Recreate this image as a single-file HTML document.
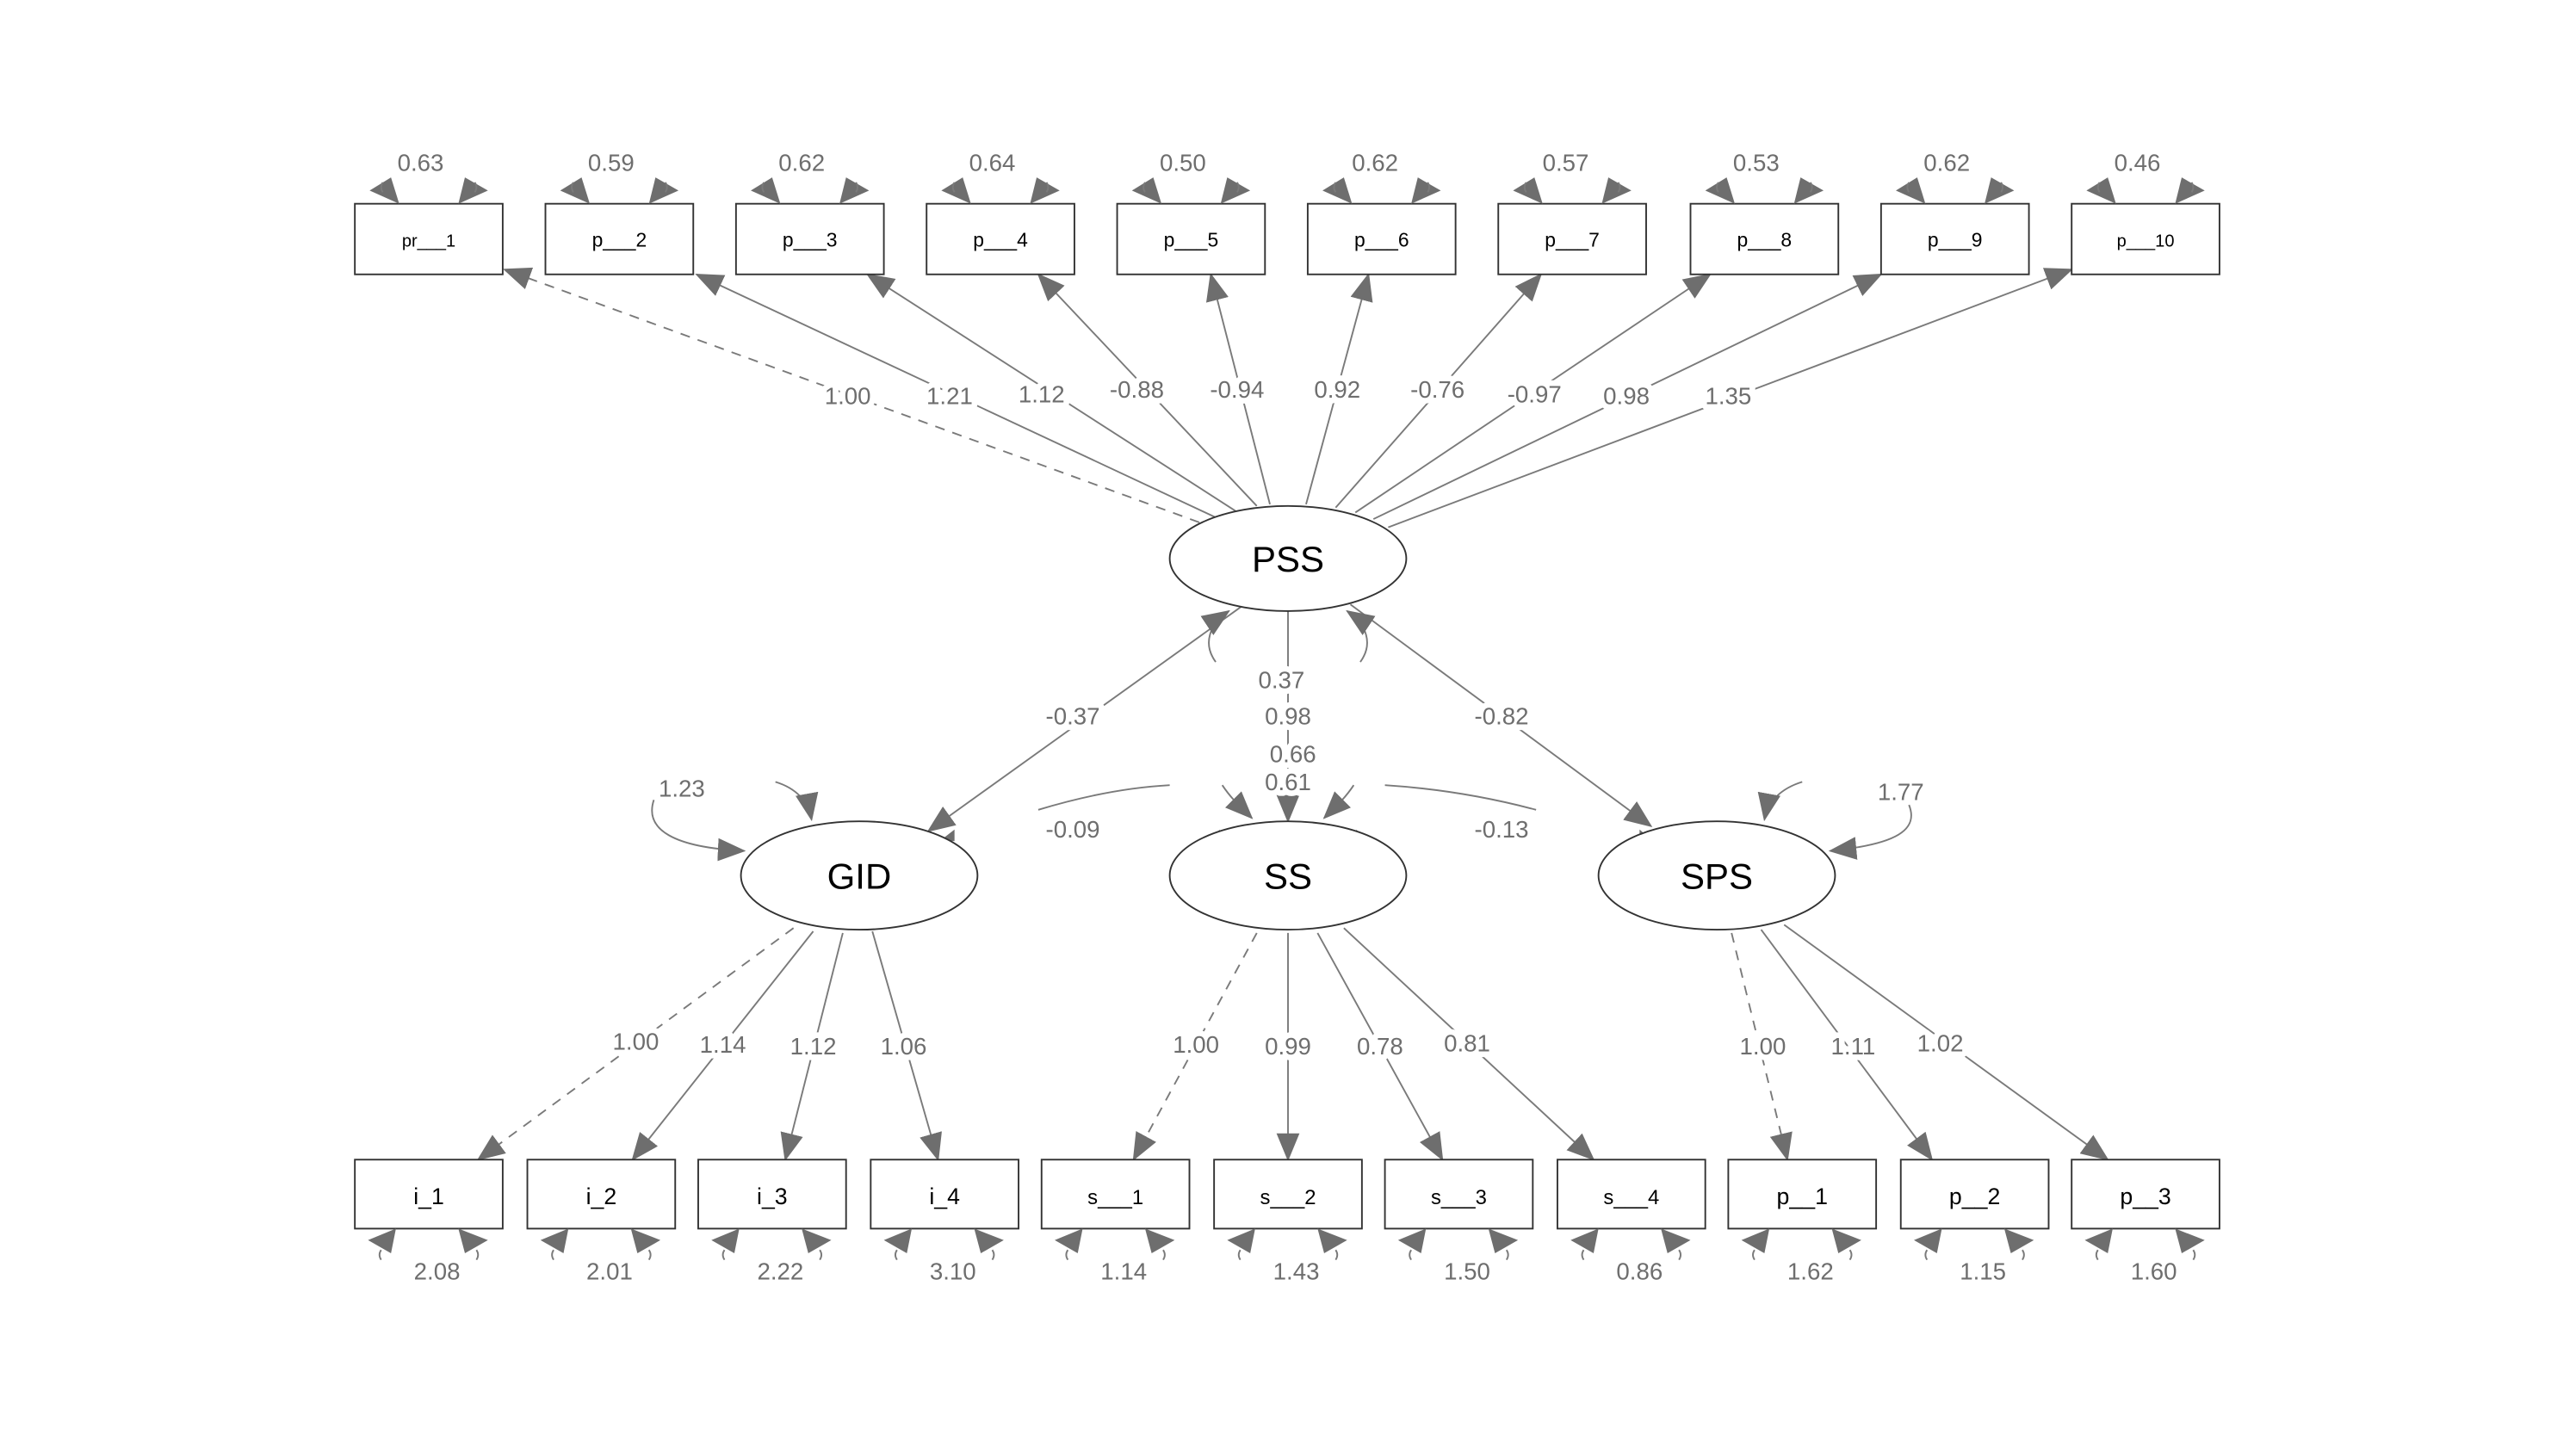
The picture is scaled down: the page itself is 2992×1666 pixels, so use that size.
<!DOCTYPE html>
<html><head><meta charset="utf-8"><style>
html,body{margin:0;padding:0;background:#fff;}
svg{display:block;}
.l{font-family:"Liberation Sans",sans-serif;font-size:14.5px;fill:#6e6e6e;text-anchor:middle;stroke:#fff;stroke-width:7px;paint-order:stroke;stroke-linejoin:round;}
.n{font-family:"Liberation Sans",sans-serif;fill:#000;text-anchor:middle;}
.e{stroke:#7a7a7a;stroke-width:1;fill:none;}
.d{stroke-dasharray:6,5;}
.b{fill:#fff;stroke:#333;stroke-width:1;}
.t{fill:#6e6e6e;}
</style></head><body>
<svg width="2992" height="1666" viewBox="0 0 1568 873" xmlns="http://www.w3.org/2000/svg">
<defs>
<marker id="a" markerUnits="userSpaceOnUse" markerWidth="18" markerHeight="14" refX="16" refY="7" orient="auto"><path d="M0,0 L17,7 L0,14 z" fill="#6e6e6e"/></marker>
<g id="tv">
 <polygon class="t" points="27,0 9,-8 22,-16"/>
 <polygon class="t" points="63,0 67,-16 81,-8"/>
 <path class="e" d="M17,-13 q-2,3 0,6"/>
 <path class="e" d="M73,-13 q2,3 0,6"/>
</g>
<g id="bv">
 <polygon class="t" points="25,0 8,7 22,15"/>
 <polygon class="t" points="63,0 67,15 81,7"/>
 <path class="e" d="M16,13 q-2,3 0,6"/>
 <path class="e" d="M74,13 q2,3 0,6"/>
</g>
</defs>

<g class="e" marker-end="url(#a)">
<path class="d" d="M730,318 L307,164"/>
<path d="M740,315 L424,167"/>
<path d="M752,311 L528,167"/>
<path d="M765,308 L632,167"/>
<path d="M773,307 L737,167"/>
<path d="M795,307 L833,167"/>
<path d="M813,309 L938,167"/>
<path d="M825,312 L1041,167"/>
<path d="M836,316 L1145,167"/>
<path d="M845,321 L1261,164"/>
<path d="M756,369 L565,506"/>
<path d="M822,368 L1005,503"/>
<path d="M784,372 L784,500"/>
<path d="M740,403 C732,392 736,380 748,372"/>
<path d="M828,403 C836,392 832,380 820,372"/>
<path d="M744,478 C750,487 756,492 762,498"/>
<path d="M824,478 C818,487 812,492 806,498"/>
<path d="M398,487 C392,505 410,516 453,518"/>
<path d="M472,476 C485,480 492,488 494,499"/>
<path d="M1097,476 C1084,480 1076,488 1074,499"/>
<path d="M1162,490 C1168,505 1155,514 1114,518"/>
<path class="d" d="M483,565 L291,706"/>
<path d="M495,567 L385,706"/>
<path d="M513,568 L478,706"/>
<path d="M531,567 L571,706"/>
<path class="d" d="M765,568 L690,706"/>
<path d="M784,568 L784,706"/>
<path d="M802,568 L878,706"/>
<path d="M818,565 L970,706"/>
<path class="d" d="M1054,568 L1088,706"/>
<path d="M1072,566 L1176,706"/>
<path d="M1086,563 L1283,706"/>
</g>
<path class="e" d="M632,493 Q675,480 712,478"/>
<path class="e" d="M843,478 Q890,481 935,493"/>
<polygon class="t" points="572,512 581,505 581,512"/>
<polygon class="t" points="742,505 750,512 742,512"/>
<polygon class="t" points="826,505 818,512 826,512"/>
<polygon class="t" points="998,505 1006,512 998,512"/>

<g>
<rect class="b" x="216" y="124" width="90" height="43"/><use href="#tv" x="216" y="124"/>
<rect class="b" x="332" y="124" width="90" height="43"/><use href="#tv" x="332" y="124"/>
<rect class="b" x="448" y="124" width="90" height="43"/><use href="#tv" x="448" y="124"/>
<rect class="b" x="564" y="124" width="90" height="43"/><use href="#tv" x="564" y="124"/>
<rect class="b" x="680" y="124" width="90" height="43"/><use href="#tv" x="680" y="124"/>
<rect class="b" x="796" y="124" width="90" height="43"/><use href="#tv" x="796" y="124"/>
<rect class="b" x="912" y="124" width="90" height="43"/><use href="#tv" x="912" y="124"/>
<rect class="b" x="1029" y="124" width="90" height="43"/><use href="#tv" x="1029" y="124"/>
<rect class="b" x="1145" y="124" width="90" height="43"/><use href="#tv" x="1145" y="124"/>
<rect class="b" x="1261" y="124" width="90" height="43"/><use href="#tv" x="1261" y="124"/>
</g>
<g class="n" font-size="12">
<text x="261" y="150" font-size="10.5">pr___1</text>
<text x="377" y="150">p___2</text>
<text x="493" y="150">p___3</text>
<text x="609" y="150">p___4</text>
<text x="725" y="150">p___5</text>
<text x="841" y="150">p___6</text>
<text x="957" y="150">p___7</text>
<text x="1074" y="150">p___8</text>
<text x="1190" y="150">p___9</text>
<text x="1306" y="150" font-size="10.5">p___10</text>
</g>
<g class="l">
<text x="256" y="104">0.63</text><text x="372" y="104">0.59</text><text x="488" y="104">0.62</text>
<text x="604" y="104">0.64</text><text x="720" y="104">0.50</text><text x="837" y="104">0.62</text>
<text x="953" y="104">0.57</text><text x="1069" y="104">0.53</text><text x="1185" y="104">0.62</text>
<text x="1301" y="104">0.46</text>
</g>

<g>
<rect class="b" x="216" y="706" width="90" height="42"/><use href="#bv" x="216" y="748"/>
<rect class="b" x="321" y="706" width="90" height="42"/><use href="#bv" x="321" y="748"/>
<rect class="b" x="425" y="706" width="90" height="42"/><use href="#bv" x="425" y="748"/>
<rect class="b" x="530" y="706" width="90" height="42"/><use href="#bv" x="530" y="748"/>
<rect class="b" x="634" y="706" width="90" height="42"/><use href="#bv" x="634" y="748"/>
<rect class="b" x="739" y="706" width="90" height="42"/><use href="#bv" x="739" y="748"/>
<rect class="b" x="843" y="706" width="90" height="42"/><use href="#bv" x="843" y="748"/>
<rect class="b" x="948" y="706" width="90" height="42"/><use href="#bv" x="948" y="748"/>
<rect class="b" x="1052" y="706" width="90" height="42"/><use href="#bv" x="1052" y="748"/>
<rect class="b" x="1157" y="706" width="90" height="42"/><use href="#bv" x="1157" y="748"/>
<rect class="b" x="1261" y="706" width="90" height="42"/><use href="#bv" x="1261" y="748"/>
</g>
<g class="n" font-size="14">
<text x="261" y="733">i_1</text><text x="366" y="733">i_2</text><text x="470" y="733">i_3</text><text x="575" y="733">i_4</text>
<text x="679" y="733" font-size="12.5">s___1</text><text x="784" y="733" font-size="12.5">s___2</text>
<text x="888" y="733" font-size="12.5">s___3</text><text x="993" y="733" font-size="12.5">s___4</text>
<text x="1097" y="733">p__1</text><text x="1202" y="733">p__2</text><text x="1306" y="733">p__3</text>
</g>
<g class="l">
<text x="266" y="779">2.08</text><text x="371" y="779">2.01</text><text x="475" y="779">2.22</text><text x="580" y="779">3.10</text>
<text x="684" y="779">1.14</text><text x="789" y="779">1.43</text><text x="893" y="779">1.50</text><text x="998" y="779">0.86</text>
<text x="1102" y="779">1.62</text><text x="1207" y="779">1.15</text><text x="1311" y="779">1.60</text>
</g>

<ellipse class="b" cx="784" cy="340" rx="72" ry="32" stroke="#000"/>
<ellipse class="b" cx="523" cy="533" rx="72" ry="33" stroke="#000"/>
<ellipse class="b" cx="784" cy="533" rx="72" ry="33" stroke="#000"/>
<ellipse class="b" cx="1045" cy="533" rx="72" ry="33" stroke="#000"/>
<g class="n" font-size="22">
<text x="784" y="348">PSS</text><text x="523" y="541">GID</text><text x="784" y="541">SS</text><text x="1045" y="541">SPS</text>
</g>

<g class="l">
<text x="516" y="246">1.00</text><text x="578" y="246">1.21</text><text x="634" y="245">1.12</text>
<text x="692" y="242">-0.88</text><text x="753" y="242">-0.94</text><text x="814" y="242">0.92</text>
<text x="875" y="242">-0.76</text><text x="934" y="245">-0.97</text><text x="990" y="246">0.98</text>
<text x="1052" y="246">1.35</text>
<text x="653" y="441">-0.37</text><text x="914" y="441">-0.82</text>
<text x="780" y="419">0.37</text><text x="784" y="441">0.98</text><text x="787" y="464">0.66</text><text x="784" y="481">0.61</text>
<text x="653" y="510">-0.09</text><text x="914" y="510">-0.13</text>
<text x="415" y="485">1.23</text><text x="1157" y="487">1.77</text>
<text x="387" y="639">1.00</text><text x="440" y="641">1.14</text><text x="495" y="642">1.12</text><text x="550" y="642">1.06</text>
<text x="728" y="641">1.00</text><text x="784" y="642">0.99</text><text x="840" y="642">0.78</text><text x="893" y="640">0.81</text>
<text x="1073" y="642">1.00</text><text x="1128" y="642">1.11</text><text x="1181" y="640">1.02</text>
</g>
</svg>
</body></html>
